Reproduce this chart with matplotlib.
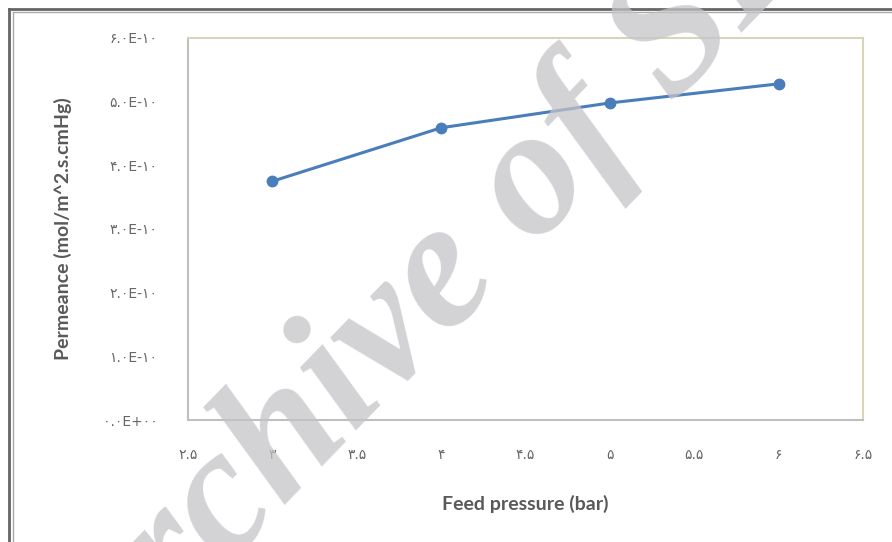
import matplotlib.pyplot as plt
from matplotlib.lines import Line2D

# data
pressure = [3, 4, 5, 6]
permeance = [3.75e-10, 4.59e-10, 4.98e-10, 5.28e-10]

x_ticks = [2.5, 3, 3.5, 4, 4.5, 5, 5.5, 6, 6.5]
x_labels = ['۲.۵', '۳', '۳.۵', '۴', '۴.۵', '۵', '۵.۵', '۶', '۶.۵']
y_ticks = [0, 1e-10, 2e-10, 3e-10, 4e-10, 5e-10, 6e-10]
y_labels = ['۰.۰E+۰۰', '۱.۰E-۱۰', '۲.۰E-۱۰', '۳.۰E-۱۰', '۴.۰E-۱۰', '۵.۰E-۱۰', '۶.۰E-۱۰']

fig = plt.figure(figsize=(8.92, 5.42), dpi=100)
ax = fig.add_axes([188 / 892, 122 / 542, 675 / 892, 382 / 542])

ax.plot(pressure, permeance, color='#4a7ebb', linewidth=2.2,
        marker='o', markersize=7.5, zorder=3)

ax.set_xlim(2.5, 6.5)
ax.set_ylim(0, 6e-10)
ax.set_xticks(x_ticks)
ax.set_xticklabels(x_labels, family='DejaVu Sans')
ax.set_yticks(y_ticks)
ax.set_yticklabels(y_labels, family='DejaVu Sans')
ax.tick_params(length=0, labelsize=10, labelcolor='#666666')
ax.tick_params(axis='x', pad=20)
ax.tick_params(axis='y', pad=22)

ax.spines['left'].set_color('#bfbfbf')
ax.spines['bottom'].set_color('#bfbfbf')
ax.spines['top'].set_color('#d9d4bc')
ax.spines['right'].set_color('#d9d4bc')
for s in ax.spines.values():
    s.set_linewidth(1.5)

ax.set_xlabel('Feed pressure (bar)', family='Lato', fontweight='bold',
              fontsize=14, color='#595959')
ax.set_ylabel('Permeance (mol/m^2.s.cmHg)', family='Lato', fontweight='bold',
              fontsize=14, color='#595959')
ax.yaxis.set_label_coords(-0.172, 0.5)
ax.xaxis.set_label_coords(0.5, -0.195)

# outer frame
fig.add_artist(Line2D([8.5 / 892, 8.5 / 892], [0, 1 - 8.5 / 542], color='#666666', lw=2))
fig.add_artist(Line2D([8.5 / 892, 1], [1 - 8.5 / 542, 1 - 8.5 / 542], color='#666666', lw=2))
fig.add_artist(Line2D([12.5 / 892, 12.5 / 892], [0, 1 - 12 / 542], color='#aaaaaa', lw=1))
fig.add_artist(Line2D([12.5 / 892, 1], [1 - 12 / 542, 1 - 12 / 542], color='#aaaaaa', lw=1))

# watermark
fig.text(0.515, 0.5, 'Archive of SID', family='Liberation Serif', style='italic',
         fontweight='bold', fontsize=132, color='#c4c4c8', alpha=0.75,
         rotation=46, ha='center', va='center', zorder=10)

fig.savefig('out.png', dpi=100)
